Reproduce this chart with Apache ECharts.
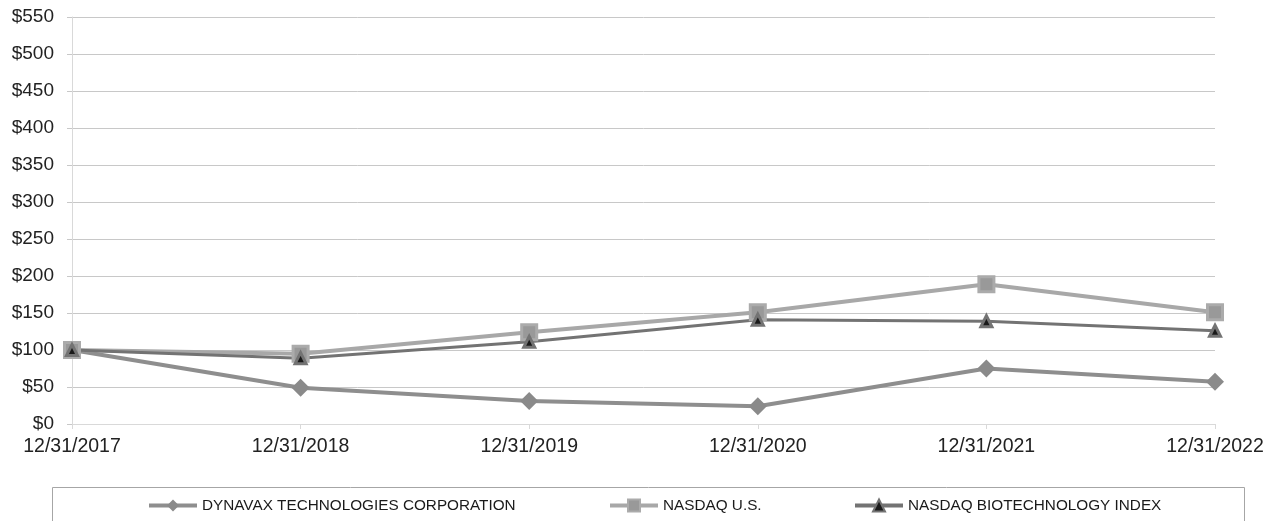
<!DOCTYPE html>
<html>
<head>
<meta charset="utf-8">
<script src="https://cdn.jsdelivr.net/npm/echarts@6/dist/echarts.min.js"></script>
<style>
  html, body { margin: 0; padding: 0; background: #fff; }
  #main { width: 1282px; height: 521px; }
</style>
</head>
<body>
<div id="main"></div>
<script>
// 年末日期
var years = ['12/31/2017', '12/31/2018', '12/31/2019', '12/31/2020', '12/31/2021', '12/31/2022'];
// 三条线
var dynavax = [100, 49, 31, 24, 75, 57];
var nasdaqUS = [100, 95, 124, 151, 189, 151];
var nasdaqBio = [100, 89, 111, 141, 139, 126];
var seriesNames = ['DYNAVAX TECHNOLOGIES CORPORATION', 'NASDAQ U.S.', 'NASDAQ BIOTECHNOLOGY INDEX'];

var font = 'Liberation Sans, Arial, sans-serif';
var myChart = echarts.init(document.getElementById('main'));

function legendAt(name, left) {
    return {
        data: [name],
        left: left,
        top: 493,
        itemWidth: 48,
        itemHeight: 15,
        itemGap: 0,
        selectedMode: false,
        lineStyle: { width: 4 },
        textStyle: { fontFamily: font, fontSize: 15.3, color: '#1a1a1a' }
    };
}

var option = {
    backgroundColor: '#fff',
    animation: false,
    grid: { left: 72, right: 67, top: 17, bottom: 97 },
    graphic: [{
        type: 'rect',
        shape: { x: 52.5, y: 487.5, width: 1192, height: 60 },
        style: { fill: 'none', stroke: '#a6a6a6', lineWidth: 1 }
    }],
    legend: [
        legendAt(seriesNames[0], 142),
        legendAt(seriesNames[1], 603),
        legendAt(seriesNames[2], 848)
    ],
    xAxis: {
        type: 'category',
        data: years,
        boundaryGap: false,
        axisLine: { lineStyle: { color: '#d9d9d9' } },
        axisTick: { show: true, length: 5, lineStyle: { color: '#d9d9d9' } },
        axisLabel: { fontFamily: font, fontSize: 19.5, color: '#222', margin: 13 }
    },
    yAxis: {
        type: 'value',
        min: 0,
        max: 550,
        interval: 50,
        axisLine: { show: true, lineStyle: { color: '#d9d9d9' } },
        axisTick: { show: true, length: 5, lineStyle: { color: '#c8c8c8' } },
        splitLine: { lineStyle: { color: '#c8c8c8' } },
        axisLabel: {
            fontFamily: font, fontSize: 19, color: '#222', margin: 18,
            formatter: function (v) { return '$' + v; }
        }
    },
    series: [
        {
            name: seriesNames[0],
            type: 'line',
            data: dynavax,
            symbol: 'diamond',
            symbolSize: 18,
            lineStyle: { color: '#8e8e8e', width: 4 },
            itemStyle: { color: '#8a8a8a' }
        },
        {
            name: seriesNames[1],
            type: 'line',
            data: nasdaqUS,
            symbol: 'rect',
            symbolSize: 15,
            lineStyle: { color: '#a8a8a8', width: 4 },
            itemStyle: { color: '#999999', borderColor: '#ababab', borderWidth: 3 }
        },
        {
            name: seriesNames[2],
            type: 'line',
            data: nasdaqBio,
            symbol: 'triangle',
            symbolSize: 11,
            lineStyle: { color: '#737373', width: 3 },
            itemStyle: { color: '#1a1a1a', borderColor: '#737373', borderWidth: 3 }
        }
    ]
};

myChart.setOption(option);
</script>
</body>
</html>
